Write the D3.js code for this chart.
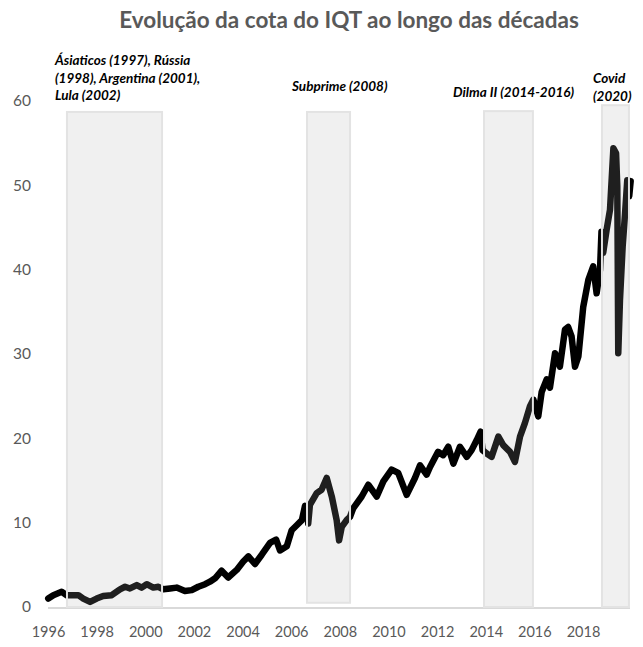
<!DOCTYPE html>
<html><head><meta charset="utf-8">
<script src="https://cdn.jsdelivr.net/npm/d3@7"></script>
<style>body{margin:0;background:#fff}svg{display:block}</style>
</head><body>
<svg id="c" width="643" height="647"></svg>
<script>
// ---- data ----
const years = [1996.01,1996.22,1996.56,1996.77,1996.90,1997.25,1997.45,1997.73,1998.00,1998.27,1998.62,1998.96,1999.17,1999.37,1999.65,1999.85,2000.06,2000.33,2000.54,2000.74,2001.02,2001.29,2001.63,2001.91,2002.18,2002.46,2002.66,2002.87,2003.14,2003.41,2003.76,2004.03,2004.24,2004.51,2004.79,2005.13,2005.38,2005.54,2005.82,2006.02,2006.23,2006.44,2006.57,2006.67,2006.70,2006.77,2007.05,2007.25,2007.46,2007.67,2007.87,2007.97,2008.08,2008.28,2008.42,2008.55,2008.90,2009.17,2009.52,2009.79,2010.13,2010.40,2010.75,2011.09,2011.30,2011.57,2011.71,2012.04,2012.25,2012.46,2012.67,2012.94,2013.22,2013.42,2013.63,2013.79,2013.87,2014.04,2014.24,2014.52,2014.72,2015.00,2015.20,2015.41,2015.61,2015.82,2015.96,2016.16,2016.30,2016.51,2016.64,2016.85,2017.05,2017.26,2017.39,2017.53,2017.67,2017.81,2018.01,2018.22,2018.42,2018.56,2018.70,2018.76,2018.83,2018.97,2019.11,2019.25,2019.36,2019.41,2019.45,2019.52,2019.63,2019.73,2019.82,2019.90,2019.96];
const quota = [1.0,1.4,1.8,1.4,1.4,1.4,1.0,0.6,1.0,1.3,1.4,2.1,2.4,2.2,2.6,2.3,2.7,2.3,2.4,2.1,2.2,2.3,1.9,2.0,2.4,2.7,3.0,3.4,4.3,3.5,4.4,5.4,6.0,5.1,6.2,7.6,8.0,6.7,7.2,9.1,9.7,10.3,12.0,11.8,9.9,12.1,13.5,13.9,15.3,13.1,10.3,7.9,9.5,10.3,10.7,11.7,13.1,14.5,13.1,14.9,16.3,15.9,13.3,15.3,16.8,15.7,16.6,18.4,18.0,19.0,17.0,19.0,17.8,18.6,19.8,20.8,18.6,18.2,17.8,20.2,19.2,18.4,17.2,20.2,21.8,23.8,24.6,22.6,25.5,27.0,26.0,30.1,28.5,32.9,33.2,32.1,28.5,29.7,35.6,38.8,40.4,37.2,40.0,44.5,42.0,44.7,47.1,54.4,53.8,49.9,30.1,36.4,42.7,46.7,50.6,48.7,50.5];

const crisisStart = [1996.78, 2006.65, 2013.93, 2018.78];
const crisisEnd   = [2000.69, 2008.42, 2015.94, 2019.89];
const crisisTop   = [58.7, 58.7, 58.8, 59.5];
const crisisBottom= [0, 0.5, 0, 0];
const crisisLabels = [
  ["Ásiaticos (1997), Rússia", "(1998), Argentina (2001),", "Lula (2002)"],
  ["Subprime (2008)"],
  ["Dilma II (2014-2016)"],
  ["Covid", "(2020)"]
];
const xTickYears = [1996,1998,2000,2002,2004,2006,2008,2010,2012,2014,2016,2018];
const yTicks = [0,10,20,30,40,50,60];
const title = "Evolução da cota do IQT ao longo das décadas";

// ---- drawing ----
const svg = d3.select("#c");
const x = d3.scaleLinear().domain([1996, 2018]).range([48, 583]);
const y = d3.scaleLinear().domain([0, 60]).range([607, 101]);
const font = "Lato, 'Open Sans', sans-serif";

svg.append("text").attr("x", 349).attr("y", 28).attr("text-anchor", "middle")
  .attr("font-family", font).attr("font-weight", "bold").attr("font-size", 22.5)
  .attr("fill", "#595959").text(title);

// y axis labels
const yAxis = d3.axisLeft(y).tickValues(yTicks).tickSize(0).tickPadding(0);
const gy = svg.append("g").attr("transform", "translate(31,0)").call(yAxis);
gy.select(".domain").remove();
gy.selectAll("text").attr("font-family", font).attr("font-size", 15.5).attr("fill", "#595959");

// x axis
const xAxis = d3.axisBottom(x).tickValues(xTickYears).tickFormat(d3.format("d")).tickSize(0).tickPadding(0);
const gx = svg.append("g").attr("transform", "translate(0,627)").call(xAxis);
gx.select(".domain").remove();
gx.selectAll("text").attr("font-family", font).attr("font-size", 14.5).attr("fill", "#595959");

// baseline
svg.append("line").attr("x1", 48).attr("x2", 630).attr("y1", y(0) + 1).attr("y2", y(0) + 1)
  .attr("stroke", "#d9d9d9").attr("stroke-width", 2);

// line
const pts = years.map((d, i) => [d, quota[i]]);
svg.append("path").datum(pts)
  .attr("d", d3.line().x(d => x(d[0])).y(d => y(d[1])))
  .attr("fill", "none").attr("stroke", "#000").attr("stroke-width", 6.5)
  .attr("stroke-linejoin", "round").attr("stroke-linecap", "round");

// crisis bands (semi-transparent, drawn over the line)
const bands = crisisStart.map((s, i) => ({s, e: crisisEnd[i], t: crisisTop[i], b: crisisBottom[i]}));
svg.append("g").selectAll("rect").data(bands).join("rect")
  .attr("x", d => x(d.s)).attr("width", d => x(d.e) - x(d.s))
  .attr("y", d => y(d.t)).attr("height", d => y(d.b) - y(d.t))
  .attr("fill", "rgba(170,170,170,0.18)").attr("stroke", "#e3e3e3").attr("stroke-width", 2);

// annotations
const labelX = [55, 292, 453, 593];
const labelY0 = [62, 88, 94, 80];
crisisLabels.forEach((lines, i) => {
  const t = svg.append("text").attr("font-family", font).attr("font-weight", "bold")
    .attr("font-style", "italic").attr("font-size", 13.5).attr("fill", "#000");
  lines.forEach((ln, j) => {
    t.append("tspan").attr("x", labelX[i]).attr("y", labelY0[i] + j * 17.5)
      .attr("dominant-baseline", "middle").text(ln);
  });
});
</script>
</body></html>
